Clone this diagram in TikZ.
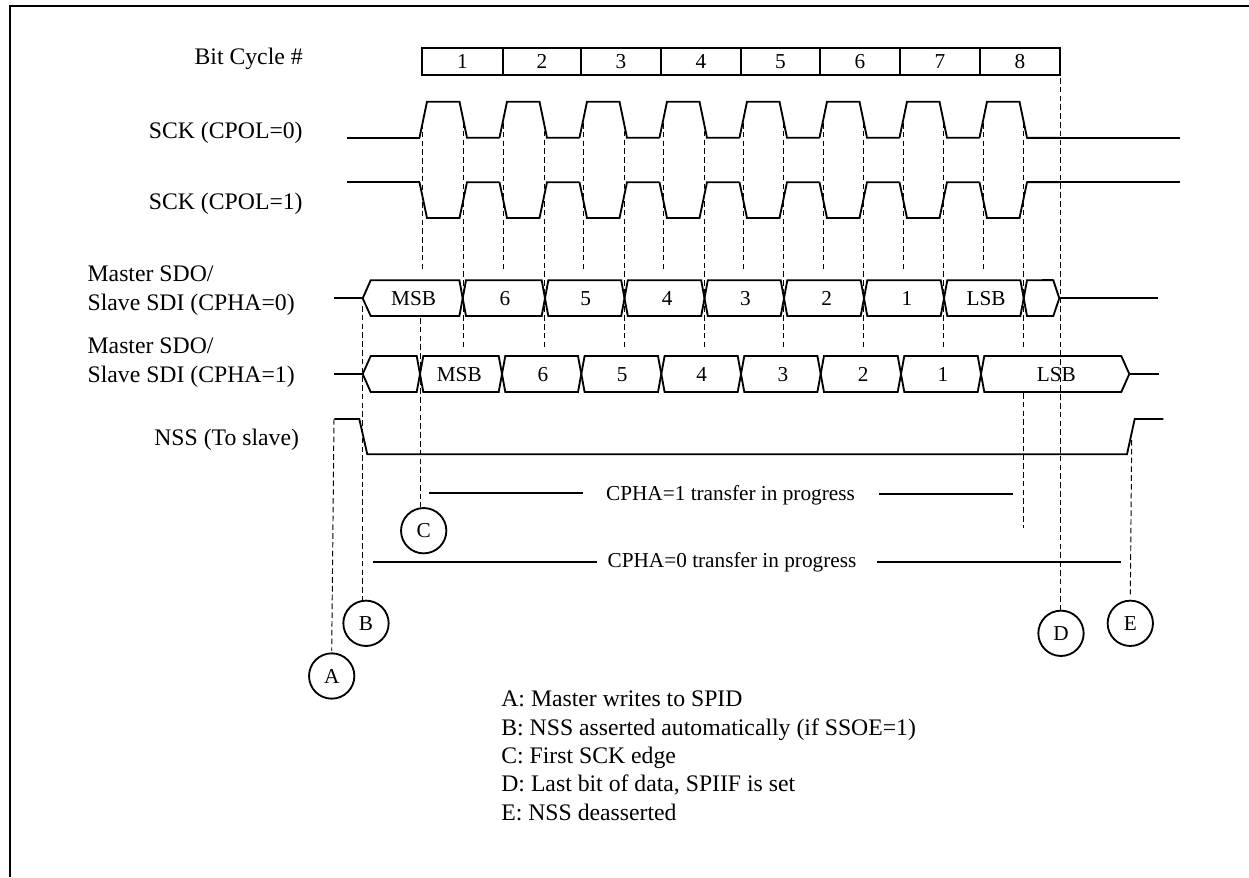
\documentclass[tikz,border=0pt]{standalone}
\usepackage{fontspec}
\setmainfont{Liberation Serif}
\tikzset{
  every node/.style={font=\fontsize{13.5}{16}\selectfont, inner sep=0pt},
  frame/.style={line width=1.14pt},
  wave/.style={line width=1.05pt},
  guide/.style={line width=0.55pt, dash pattern=on 3.2pt off 1.8pt},
  marker/.style={circle, draw, line width=1.05pt, minimum size=25.8pt, font=\fontsize{12.1}{14}\selectfont},
  lbl/.style={anchor=base east},
  lblleft/.style={anchor=base west},
  txt/.style={anchor=base, font=\fontsize{12.1}{14}\selectfont},
}
% one clock trace, #1 is its level at rest and #2 the other level
\newcommand{\sckwave}[2]{
  \draw[wave] (347,#1) -- (419.5,#1);
  \foreach \k in {0,...,7}
    \draw[wave] ({419.5+80*\k},#1) -- ({427+80*\k},#2) -- ({459.5+80*\k},#2) -- ({467+80*\k},#1) -- ({499.5+80*\k},#1);
  \draw[wave] (1027,#1) -- (1179.5,#1);
}
\begin{document}
\begin{tikzpicture}[x=0.02cm, y=-0.02cm]
  \useasboundingbox (0,0) rectangle (1249,877);
  \draw[frame] (10,877) -- (10,6) -- (1249,6);
  % ---- left labels
  \node[lbl] (lblbit) at (303,64) {Bit Cycle \#};
  \node[lbl] (lblpol0) at (303,138) {SCK (CPOL=0)};
  \node[lbl] (lblpol1) at (303,209) {SCK (CPOL=1)};
  \node[lblleft] (lblm0) at (87.3,281.7) {Master SDO/};
  \node[lblleft] (lbls0) at (87.3,310) {Slave SDI (CPHA=0)};
  \node[lblleft] (lblm1) at (87.3,353.3) {Master SDO/};
  \node[lblleft] (lbls1) at (87.3,382.7) {Slave SDI (CPHA=1)};
  \node[lbl] (lblnss) at (299.3,445.7) {NSS (To slave)};
  % ---- bit cycles
  \foreach \l/\r/\n in {422/503/1, 503/581/2, 581/661/3, 661/741/4, 741/820/5, 820/900/6, 900/980/7, 980/1060/8}
    \draw[wave] (\l,48.3) rectangle (\r,75) node[midway, font=\fontsize{12.1}{14}\selectfont] (bit\n) {\n};
  % ---- clocks
  \sckwave{137.7}{101.7}
  \sckwave{182.3}{218}
  \foreach \x in {422.7,503.3,583.3,663,743,823.3,903,983}
    \draw[guide] (\x,123) -- (\x,271.5);
  \foreach \x in {463,544,624,704,783.5,863.7,943.3,1023.5}
    \draw[guide] (\x,122) -- (\x,347.5);
  \draw[guide] (1023,393) -- (1023,528.3);
  % ---- data, CPHA=0
  \draw[wave] (334.3,298.3) -- (362.7,298.3);
  \draw[wave] (362.7,298.3) -- (370.7,280.3) -- (459.4,280.3) -- (462.7,298.3) -- (459.4,316) -- (370.7,316) -- cycle;
  \node[txt] (d0msb) at (413.7,305.7) {MSB};
  \foreach \l/\r/\c/\t in {462.7/545/505/6, 545/624.5/585.7/5, 624.5/704.5/667.3/4, 704.5/784/745.5/3, 784/864/826.7/2, 864/944/907/1, 944/1023.7/986/LSB} {
    \draw[wave] (\l,298.3) -- (\l+3.3,280.3) -- (\r-3.3,280.3) -- (\r,298.3) -- (\r-3.3,316) -- (\l+3.3,316) -- cycle;
    \node[txt] (d0\t) at (\c,305.7) {\t};
  }
  \draw[wave] (1023.7,298.3) -- (1027,280.3) -- (1053.3,280.3) -- (1059.3,298.3) -- (1053.3,316) -- (1027,316) -- cycle;
  \draw[line width=1.3pt] (1041.7,280) -- (1053.3,280);
  \draw[wave] (1059.3,298.3) -- (1157.7,298.3);
  % ---- data, CPHA=1
  \draw[wave] (334.3,374) -- (362.7,374);
  \draw[wave] (362.7,374) -- (370.7,356) -- (416.7,356) -- (420,374) -- (416.7,392) -- (370.7,392) -- cycle;
  \foreach \l/\r/\c/\t in {420/502/459.3/MSB, 502/581.3/543/6, 581.3/661.3/622.3/5, 661.3/741/701.7/4, 741/820.7/783/3, 820.7/901/863.3/2, 901/981/943/1} {
    \draw[wave] (\l,374) -- (\l+3.3,356) -- (\r-3.3,356) -- (\r,374) -- (\r-3.3,392) -- (\l+3.3,392) -- cycle;
    \node[txt] (d1\t) at (\c,381.7) {\t};
  }
  \draw[wave] (981,374) -- (984.3,356) -- (1121.3,356) -- (1129.3,374) -- (1121.3,392) -- (984.3,392) -- cycle;
  \node[txt] (d1LSB) at (1056.3,381.7) {LSB};
  \draw[wave] (1129.3,374) -- (1159,374);
  % ---- slave select
  \draw[wave] (334.3,419) -- (359.3,419) -- (367.3,454.3) -- (1127,454.3) -- (1134.7,419) -- (1163.3,419);
  % ---- transfers
  \node[txt] (xfer1) at (730.5,500) {CPHA=1 transfer in progress};
  \coordinate (xfer1l) at (429.3,492.7);
  \coordinate (xfer1r) at (1013,494.3);
  \draw[wave, shorten >=13pt] (xfer1l) -- (xfer1l -| xfer1.west);
  \draw[wave, shorten <=13.5pt] (xfer1r -| xfer1.east) -- (xfer1r);
  \node[txt] (xfer0) at (732,567) {CPHA=0 transfer in progress};
  \coordinate (xfer0l) at (372.7,562);
  \coordinate (xfer0r) at (1121.3,562);
  \draw[wave, shorten >=5.7pt] (xfer0l) -- (xfer0l -| xfer0.west);
  \draw[wave, shorten <=11.4pt] (xfer0r -| xfer0.east) -- (xfer0r);
  % ---- markers
  \node[marker] (A) at (331.7,676) {A};
  \node[marker] (B) at (366,623.3) {B};
  \node[marker] (C) at (423.7,530.7) {C};
  \node[marker] (D) at (1061,633.3) {D};
  \node[marker] (E) at (1130.3,623.3) {E};
  \coordinate (tA) at (334,419);
  \coordinate (tB) at (362.8,306);
  \coordinate (tC) at (420.3,318);
  \coordinate (tD) at (1060,78);
  \coordinate (tE) at (1131.7,440);
  \draw[guide, shorten >=1pt] (tA) -- (A.north);
  \draw[guide] (tB) -- (tB |- B.north);
  \draw[guide] (tC) -- (tC |- C.north);
  \draw[guide] (tD) -- (tD |- D.north);
  \draw[guide, shorten >=3pt] (tE) -- (E.north);
  % ---- legend
  \node[lblleft] (keyA) at (501,706.7) {A: Master writes to SPID};
  \node[lblleft] (keyB) at (501,735) {B: NSS asserted automatically (if SSOE=1)};
  \node[lblleft] (keyC) at (501,763.3) {C: First SCK edge};
  \node[lblleft] (keyD) at (501,791.7) {D: Last bit of data, SPIIF is set};
  \node[lblleft] (keyE) at (501,820) {E: NSS deasserted};
\end{tikzpicture}
\end{document}
